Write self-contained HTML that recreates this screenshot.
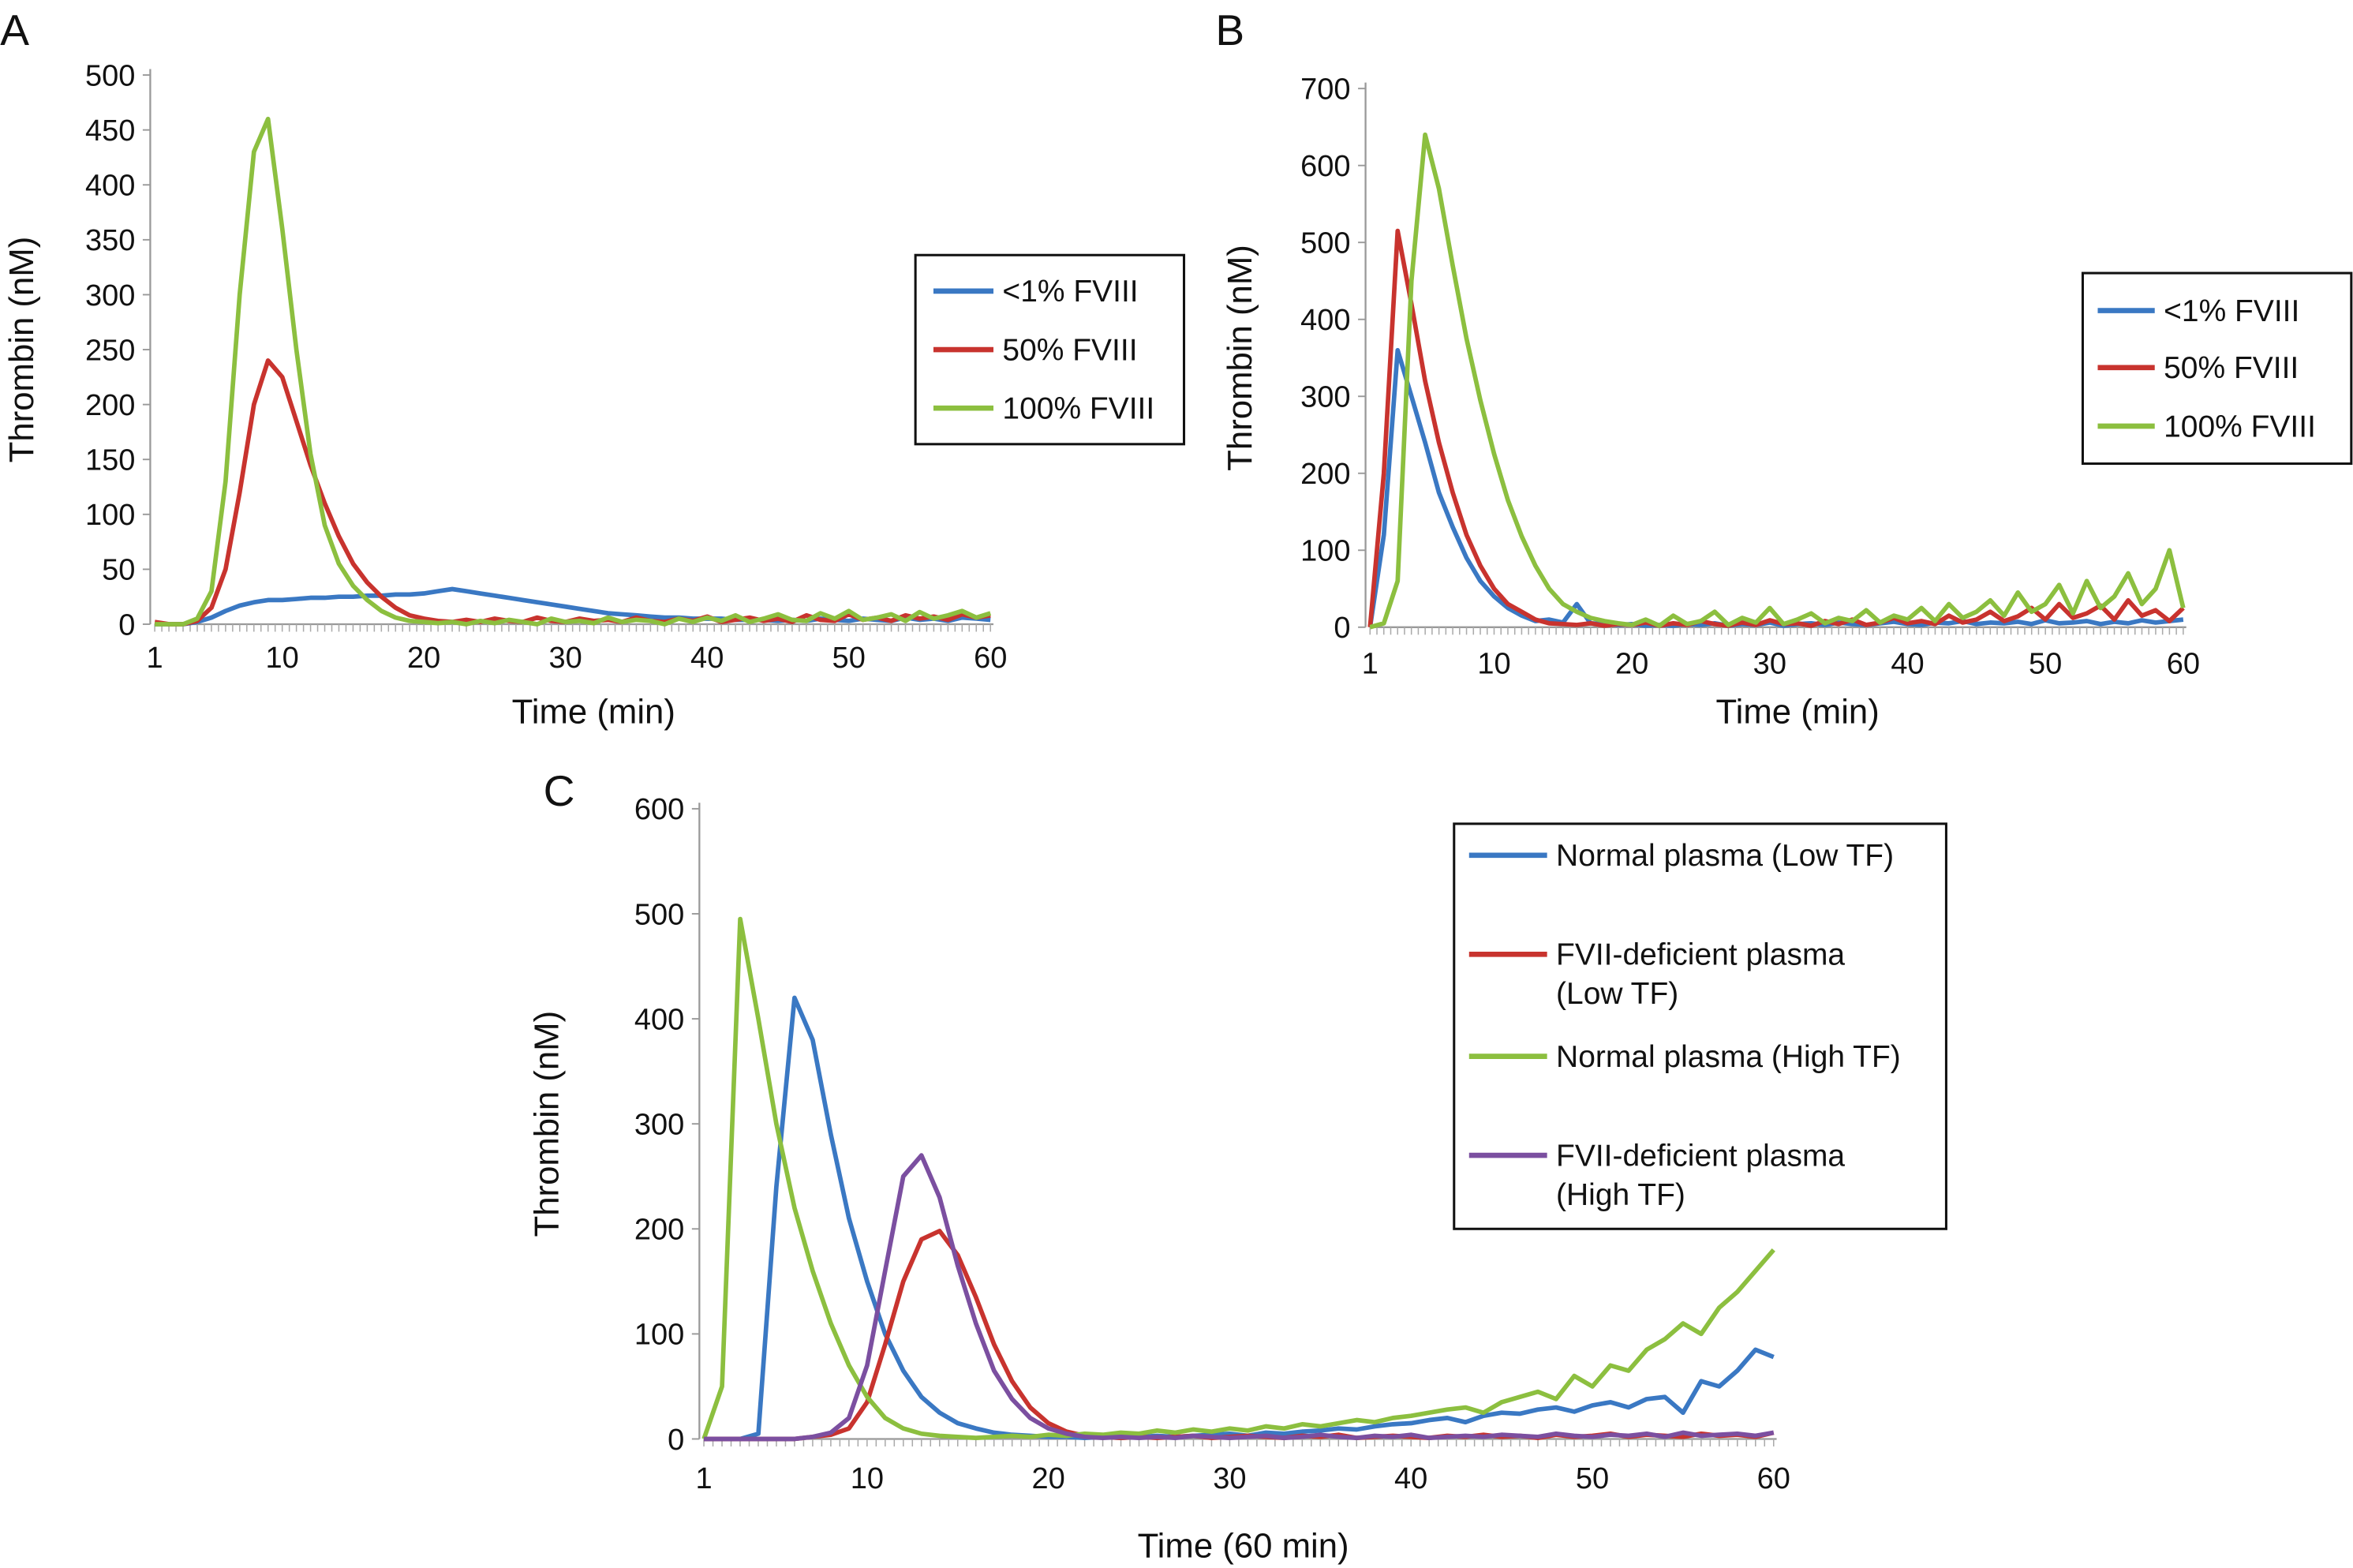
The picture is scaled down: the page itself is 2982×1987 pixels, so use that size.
<!DOCTYPE html>
<html><head><meta charset="utf-8"><style>
html,body{margin:0;padding:0;background:#fff;}
svg{display:block;font-family:"Liberation Sans",Arial,sans-serif;}
</style></head><body>
<svg id="fig" width="2982" height="1987" viewBox="0 0 1568 1045" xmlns="http://www.w3.org/2000/svg">
<rect width="1568" height="1045" fill="#fff"/>
</svg>
<script>
const times = Array.from({length:60},(_,i)=>i+1);
// Panel A
const aBlue=[0,0,0,2,6,12,17,20,22,22,23,24,24,25,25,26,26,27,27,28,30,32,30,28,26,24,22,20,18,16,14,12,10,9,8,7,6,6,5,5,5,4,4,4,3,4,3,5,4,3,5,4,3,6,4,5,3,6,5,4];
const aRed=[2,0,0,3,15,50,120,200,240,225,185,145,110,80,55,38,25,15,8,5,3,2,4,2,5,3,2,6,3,2,5,3,4,2,6,3,2,5,3,7,2,4,6,3,5,2,8,4,3,9,4,6,3,8,5,7,4,9,6,8];
const aGreen=[0,0,0,5,30,130,300,430,460,360,250,155,90,55,35,22,12,6,3,2,1,2,0,3,1,4,2,0,5,2,3,1,6,2,4,3,0,5,2,6,3,8,2,5,9,4,3,10,5,12,4,6,9,3,11,5,8,12,6,10];
// Panel B
const bBlue=[0,120,360,300,240,175,130,90,60,40,25,15,8,10,6,30,5,4,3,4,2,3,2,4,3,5,2,4,3,6,2,4,5,3,6,4,3,5,7,4,3,6,5,8,4,6,5,7,4,9,5,6,8,4,7,5,9,6,8,10];
const bRed=[0,200,515,420,320,240,175,120,80,50,30,20,10,5,4,3,5,2,4,3,6,2,5,3,8,4,2,6,3,9,4,5,2,8,4,10,3,6,12,5,8,4,15,6,10,20,8,14,25,10,30,12,18,28,10,35,15,22,8,25];
const bGreen=[0,5,60,450,640,570,470,375,295,225,165,118,80,50,30,20,12,8,5,3,10,2,15,4,8,20,3,12,6,25,4,10,18,5,12,8,22,6,15,10,25,8,30,12,20,35,15,45,20,30,55,18,60,25,40,70,30,50,100,25];
// Panel C
const cBlue=[0,0,0,5,240,420,380,290,210,150,100,65,40,25,15,10,6,4,3,2,2,1,2,1,2,3,2,3,4,5,3,6,5,7,8,10,9,12,14,15,18,20,16,22,25,24,28,30,26,32,35,30,38,40,25,55,50,65,85,78];
const cRed=[0,0,0,0,0,0,2,4,10,35,90,150,190,198,175,135,90,55,30,15,7,3,2,1,2,1,2,3,1,2,3,2,1,3,2,4,1,2,3,2,1,3,2,4,2,3,1,4,2,3,5,2,4,3,2,5,3,4,2,6];
const cGreen=[0,50,495,400,300,220,160,110,70,40,20,10,5,3,2,1,2,3,2,4,3,5,4,6,5,8,6,9,7,10,8,12,10,14,12,15,18,16,20,22,25,28,30,25,35,40,45,38,60,50,70,65,85,95,110,100,125,140,160,180];
const cPurple=[0,0,0,0,0,0,2,6,20,70,160,250,270,230,165,110,65,38,20,10,5,2,1,2,1,2,1,3,2,1,2,3,1,2,4,2,1,3,2,4,1,2,3,2,4,3,2,5,3,2,4,3,5,2,6,3,4,5,3,6];
const aYTicks=[0,50,100,150,200,250,300,350,400,450,500];
const bYTicks=[0,100,200,300,400,500,600,700];
const cYTicks=[0,100,200,300,400,500,600];
const xTicks=[1,10,20,30,40,50,60];

const svg=document.getElementById('fig');
const NS='http://www.w3.org/2000/svg';
function el(tag,attrs,parent){const e=document.createElementNS(NS,tag);for(const k in attrs)e.setAttribute(k,attrs[k]);(parent||svg).appendChild(e);return e;}
function txt(s,attrs,parent){const t=el('text',attrs,parent);t.textContent=s;return t;}
const COL={blue:'#3a78c3',red:'#c8332e',green:'#8cbf3f',purple:'#7b4fa0'};

function panel(cfg){
  const g=el('g',{});
  
  
  const xs=t=>cfg.x0+(t-1)/(59)*(cfg.x1-cfg.x0);
  const ys=v=>cfg.y0-v/cfg.ymax*(cfg.y0-cfg.y1);
  const ax=el('g',{},g);
  
  el('line',{x1:cfg.ax,y1:cfg.y1-4,x2:cfg.ax,y2:cfg.y0,stroke:'#999','stroke-width':1.2},ax);
  cfg.yt.forEach(v=>{el('line',{x1:cfg.ax-5,x2:cfg.ax,y1:ys(v),y2:ys(v),stroke:'#999'},ax);
    const t=txt(String(v),{x:cfg.ax-10,y:ys(v)+7,'text-anchor':'end','font-size':20,fill:'#111'},ax);
    });
  const xa=el('g',{},g);
  
  el('line',{x1:cfg.x0,x2:cfg.x1+2,y1:cfg.y0,y2:cfg.y0,stroke:'#999','stroke-width':1.2},xa);
  for(let t=1;t<=60;t+=0.5){el('line',{x1:xs(t),x2:xs(t),y1:cfg.y0,y2:cfg.y0+5,stroke:'#aaa','stroke-width':0.8},xa);}
  xTicks.forEach(t=>{const l=txt(String(t),{x:xs(t),y:cfg.y0+cfg.tlo,'text-anchor':'middle','font-size':20,fill:'#111'},xa);
    });
  const xt=txt(cfg.xlabel,{x:(cfg.x0+cfg.x1)/2+cfg.xtdx,y:cfg.y0+cfg.xto,'text-anchor':'middle','font-size':23,fill:'#111'},g);
  
  const yt=txt('Thrombin (nM)',{x:0,y:0,'text-anchor':'middle','font-size':23,fill:'#111',transform:`translate(${cfg.ytx},${(cfg.y0+cfg.y1)/2}) rotate(-90)`},g);
  
  const pl=txt(cfg.letter,{x:cfg.lx,y:cfg.ly,'font-size':29,fill:'#111'},g);
  
  cfg.series.forEach(s=>{
    const d=s.data.map((v,i)=>(i?'L':'M')+xs(times[i]).toFixed(1)+','+ys(v).toFixed(1)).join('');
    const p=el('path',{d:d,fill:'none',stroke:COL[s.c],'stroke-width':3,'stroke-linejoin':'round'},g);
    
  });
  const lg=el('g',{},g);
  
  const L=cfg.leg;
  el('rect',{x:L.x,y:L.y,width:L.w,height:L.h,fill:'#fff',stroke:'#111','stroke-width':1.6},lg);
  cfg.series.forEach((s,i)=>{
    const e=el('g',{},lg);
    
    const yy=L.rows[i];
    el('line',{x1:L.x+L.lx0,x2:L.x+L.lx1,y1:yy,y2:yy,stroke:COL[s.c],'stroke-width':3.5},e);
    s.label.forEach((ln,j)=>txt(ln,{x:L.x+L.lx1+6,y:yy+7+j*26,'font-size':20.5,fill:'#111'},e));
  });
}
panel({name:'panel-a',letter:'A',lx:0,ly:30,x0:103,x1:660,ax:100,y0:416,y1:50,ymax:500,yt:aYTicks,ytx:22,xlabel:'Time (min)',tlo:29,xto:66,xtdx:14,
  series:[{id:'a-lt1',c:'blue',data:aBlue,label:['<1% FVIII']},{id:'a-50',c:'red',data:aRed,label:['50% FVIII']},{id:'a-100',c:'green',data:aGreen,label:['100% FVIII']}],
  leg:{x:610,y:170,w:179,h:126,lx0:12,lx1:52,rows:[194,233,272]}});
panel({name:'panel-b',letter:'B',lx:810,ly:30,x0:913,x1:1455,ax:910,y0:418,y1:59,ymax:700,yt:bYTicks,ytx:834,xlabel:'Time (min)',tlo:31,xto:64,xtdx:14,
  series:[{id:'b-lt1',c:'blue',data:bBlue,label:['<1% FVIII']},{id:'b-50',c:'red',data:bRed,label:['50% FVIII']},{id:'b-100',c:'green',data:bGreen,label:['100% FVIII']}],
  leg:{x:1388,y:182,w:179,h:127,lx0:10,lx1:48,rows:[207,245,284]}});
panel({name:'panel-c',letter:'C',lx:362,ly:537,x0:469,x1:1182,ax:466,y0:959,y1:539,ymax:600,yt:cYTicks,ytx:372,xlabel:'Time (60 min)',tlo:33,xto:79,xtdx:3,
  series:[{id:'c-normal-low',c:'blue',data:cBlue,label:['Normal plasma (Low TF)']},{id:'c-fvii-low',c:'red',data:cRed,label:['FVII-deficient plasma','(Low TF)']},{id:'c-normal-high',c:'green',data:cGreen,label:['Normal plasma (High TF)']},{id:'c-fvii-high',c:'purple',data:cPurple,label:['FVII-deficient plasma','(High TF)']}],
  leg:{x:969,y:549,w:328,h:270,lx0:10,lx1:62,rows:[570,636,704,770]}});
</script>
</body></html>
